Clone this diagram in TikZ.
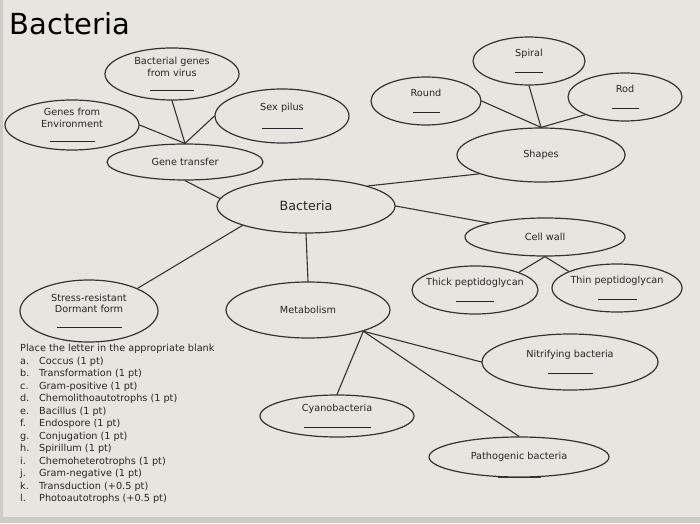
\documentclass[tikz,border=0pt]{standalone}
\usepackage{fontspec}
\setmainfont{DejaVu Sans}
\usetikzlibrary{shapes.geometric}

\definecolor{slidebg}{HTML}{E7E5E0}
\definecolor{slideedge}{HTML}{CDCBC6}
\definecolor{inkline}{HTML}{333333}
\newcommand{\blank}[1]{\rule{#1pt}{0.9pt}}
\newcommand{\itm}[2]{\makebox[19pt][l]{#1}#2}

\begin{document}
\begin{tikzpicture}[x=1pt,y=1pt]
\tikzset{
  concept/.style={ellipse,draw=inkline,line width=1.2pt,inner sep=0pt,align=center,
    font=\fontsize{9.7}{11.5}\selectfont,text=black!85},
  tight/.style={inner xsep=-10pt},
  link/.style={draw=inkline,line width=1.1pt,line cap=round}
}
% slide background
\fill[slidebg] (0,0) rectangle (700,523);
\fill[slideedge] (0,0) rectangle (700,6);
\fill[slideedge] (0,0) rectangle (3,523);
\useasboundingbox (0,0) rectangle (700,523);

\node[anchor=base west,font=\fontsize{29}{31}\selectfont] (n_title) at (6,488) {Bacteria};

% gene transfer branch
\node[concept,minimum width=134,minimum height=52] (n_virus) at (172,449) {Bacterial genes\\from virus\\[3pt]\blank{44}};
\node[concept,minimum width=134,minimum height=50] (n_env) at (72,398) {Genes from\\Environment\\[3pt]\blank{45}};
\node[concept,minimum width=134,minimum height=54] (n_pilus) at (282,407) {Sex pilus\\[6pt]\blank{41}};
\node[concept,minimum width=156,minimum height=36] (n_gene) at (185,361) {Gene transfer};

% centre
\node[concept,minimum width=178,minimum height=54,font=\fontsize{12.7}{14}\selectfont] (n_bact) at (306,317) {Bacteria};
\node[concept,minimum width=138,minimum height=62] (n_stress) at (89,212) {Stress-resistant\\Dormant form\\[4pt]\blank{65}};
\node[concept,minimum width=164,minimum height=56] (n_metab) at (308,213) {Metabolism};

% shapes branch
\node[concept,minimum width=112,minimum height=48] (n_spiral) at (529,462) {Spiral\\[4pt]\blank{28}};
\node[concept,minimum width=110,minimum height=48] (n_round) at (426,422) {Round\\[4pt]\blank{27}};
\node[concept,minimum width=114,minimum height=48] (n_rod) at (625,426) {Rod\\[4pt]\blank{27}};
\node[concept,minimum width=168,minimum height=54] (n_shapes) at (541,368) {Shapes};

% cell wall branch
\node[concept,minimum width=160,minimum height=38] (n_wall) at (545,286) {Cell wall};
\node[concept,tight,minimum width=126,minimum height=48] (n_thick) at (475,233) {Thick peptidoglycan\\[4pt]\blank{38}};
\node[concept,tight,minimum width=130,minimum height=48] (n_thin) at (617,235) {Thin peptidoglycan\\[4pt]\blank{39}};

% metabolism branch
\node[concept,minimum width=176,minimum height=56] (n_nitri) at (570,161) {Nitrifying bacteria\\[4pt]\blank{45}};
\node[concept,minimum width=154,minimum height=42] (n_cyano) at (337,107) {Cyanobacteria\\[4pt]\blank{67}};
\node[concept,minimum width=180,minimum height=40] (n_patho) at (519,66) {Pathogenic bacteria};
\draw[inkline,line width=1.6pt] ([xshift=-21]n_patho.south) -- ([xshift=22]n_patho.south);

% instructions
\node[anchor=north west,align=left,inner sep=0pt,font=\fontsize{9.7}{12.5}\selectfont,text=black!85] (n_list) at (20,179) {%
Place the letter in the appropriate blank\\
\itm{a.}{Coccus (1 pt)}\\
\itm{b.}{Transformation (1 pt)}\\
\itm{c.}{Gram-positive (1 pt)}\\
\itm{d.}{Chemolithoautotrophs (1 pt)}\\
\itm{e.}{Bacillus (1 pt)}\\
\itm{f.}{Endospore (1 pt)}\\
\itm{g.}{Conjugation (1 pt)}\\
\itm{h.}{Spirillum (1 pt)}\\
\itm{i.}{Chemoheterotrophs (1 pt)}\\
\itm{j.}{Gram-negative (1 pt)}\\
\itm{k.}{Transduction (+0.5 pt)}\\
\itm{l.}{Photoautotrophs (+0.5 pt)}};

% connectors
\draw[link] (n_env.east) -- (n_gene.north);
\draw[link] (n_virus.south) -- (n_gene.north);
\draw[link] (n_pilus.west) -- (n_gene.north);
\draw[link] (n_gene.south) -- (n_bact.175);
\draw[link] (n_bact.197) -- (n_stress.25);
\draw[link] (n_bact.south) -- (n_metab.north);
\draw[link] (n_shapes.197) -- (n_bact.18);
\draw[link] (n_round.east) -- (n_shapes.north);
\draw[link] (n_spiral.south) -- (n_shapes.north);
\draw[link] (n_rod.204) -- (n_shapes.north);
\draw[link] (n_bact.east) -- (n_wall.166);
\draw[link] (n_wall.south) -- (n_thick.22);
\draw[link] (n_wall.south) -- (n_thin.161);
\draw[link] (n_metab.339) -- (n_cyano.north);
\draw[link] (n_metab.339) -- (n_nitri.west);
\draw[link] (n_metab.339) -- (n_patho.north);
\end{tikzpicture}
\end{document}
